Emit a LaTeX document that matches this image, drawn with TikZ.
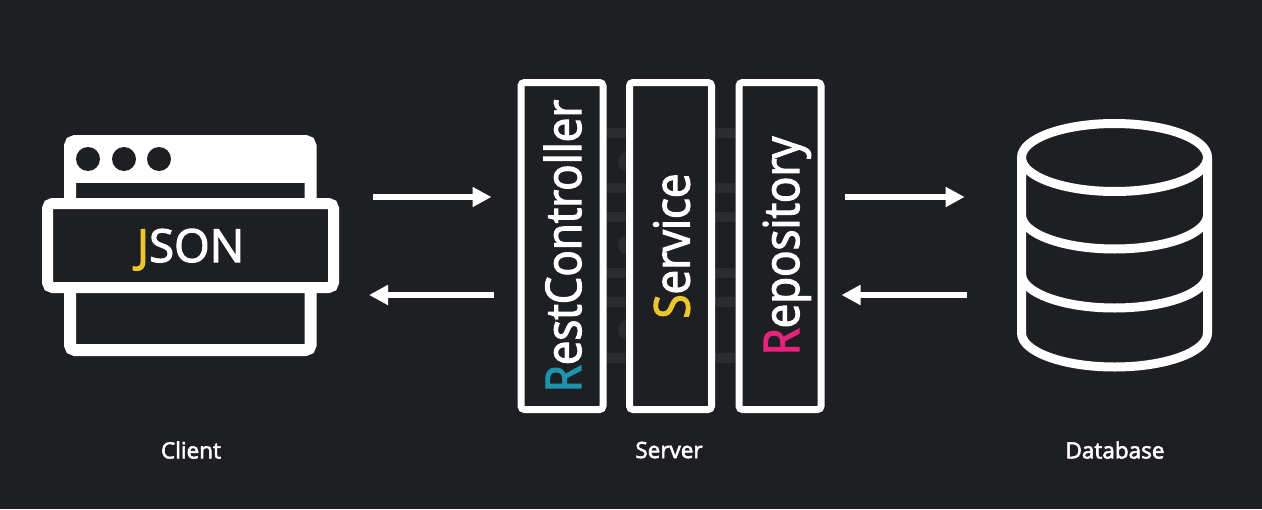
\documentclass[tikz,border=0pt]{standalone}
\usepackage{fontspec}
\setmainfont{Open Sans}
\newfontfamily\labelfont[FakeBold=2.5]{Open Sans}
\newfontfamily\panelfont[FakeBold=2.5, FakeStretch=0.89]{Open Sans}
\usetikzlibrary{arrows.meta, positioning, calc}
\definecolor{bgdark}{RGB}{30, 31, 35}
\definecolor{ghostgray}{RGB}{43, 44, 48}
\definecolor{jsonyellow}{RGB}{236, 197, 47}
\definecolor{restblue}{RGB}{27, 149, 174}
\definecolor{repopink}{RGB}{229, 35, 122}
\begin{document}
\begin{tikzpicture}[
  layer/.style={draw=white, fill=bgdark, line width=0.14cm, rounded corners=0.07cm,
                minimum width=1.64cm, minimum height=6.54cm},
  layertext/.style={rotate=90, text=white, inner sep=0pt, font=\panelfont\fontsize{28}{30}\selectfont,
                    text height=0.96cm, text depth=0.2cm},
  dot/.style={circle, fill=bgdark, minimum size=0.48cm, inner sep=0pt},
  caption/.style={text=white, font=\labelfont\fontsize{12.8}{14}\selectfont},
  flow/.style={draw=white, line width=0.12cm, -{Triangle[length=0.38cm, width=0.38cm]}},
  dbline/.style={draw=white, line width=0.18cm},
  ghost/.style={fill=ghostgray}
]
  \fill[bgdark] (0, 0) rectangle (25.24, 10.18);
  \useasboundingbox (0, 0) rectangle (25.24, 10.18);

  % faint strips behind the server
  \fill[ghost] (12.56, 6.94) circle (0.2);
  \fill[ghost] (12.56, 5.28) circle (0.2);
  \fill[ghost] (12.56, 3.58) circle (0.2);
  \fill[ghost] (12.14, 7.42) rectangle (12.52, 7.62) (14.3, 7.42) rectangle (14.7, 7.62);
  \fill[ghost] (12.14, 6.32) rectangle (12.52, 6.52) (14.3, 6.32) rectangle (14.7, 6.52);
  \fill[ghost] (12.14, 5.74) rectangle (12.52, 5.94) (14.3, 5.74) rectangle (14.7, 5.94);
  \fill[ghost] (12.14, 4.62) rectangle (12.52, 4.82) (14.3, 4.62) rectangle (14.7, 4.82);
  \fill[ghost] (12.14, 4.04) rectangle (12.52, 4.24) (14.3, 4.04) rectangle (14.7, 4.24);
  \fill[ghost] (12.14, 2.92) rectangle (12.52, 3.12) (14.3, 2.92) rectangle (14.7, 3.12);

  % client
  \node[draw=white, fill=bgdark, line width=0.24cm, rounded corners=0.1cm,
        minimum width=4.81cm, minimum height=4.18cm] (window) at (3.805, 5.27) {};
  \node[fill=white, minimum width=4.7cm, minimum height=0.84cm, inner sep=0pt] (header) at (3.805, 6.94) {};
  \node[dot] (dota) at (1.76, 7.0) {};
  \node[dot] (dotb) at (2.48, 7.0) {};
  \node[dot] (dotc) at (3.18, 7.0) {};
  \node[draw=white, fill=bgdark, line width=0.22cm, rounded corners=0.1cm,
        minimum width=5.72cm, minimum height=1.68cm, text=white, inner sep=0pt,
        text height=0.66cm, text depth=0cm,
        font=\labelfont\fontsize{26}{28}\selectfont] (band) at (3.81, 5.27)
    {\textcolor{jsonyellow}{J}SON};

  % server
  \node[layer] (rest) at (11.24, 5.26) {};
  \node[layer] (service) at (13.41, 5.26) {};
  \node[layer] (repo) at (15.6, 5.26) {};
  \node[layertext] (resttext) at (rest) {\textcolor{restblue}{R}estController};
  \node[layertext] (servicetext) at (service) {\textcolor{jsonyellow}{S}ervice};
  \node[layertext] (repotext) at (repo) {\textcolor{repopink}{R}epository};

  % database
  \node[minimum width=3.9cm, minimum height=5.04cm, inner sep=0pt] (db) at (22.29, 5.66) {};
  \draw[dbline] (22.29, 7.03) ellipse [x radius=1.86, y radius=0.68];
  \draw[dbline] (20.43, 7.03) -- (20.43, 3.52) arc [start angle=180, end angle=360, x radius=1.86, y radius=0.68] -- (24.15, 7.03);
  \draw[dbline] (20.43, 5.88) arc [start angle=180, end angle=360, x radius=1.86, y radius=0.68];
  \draw[dbline] (20.43, 4.70) arc [start angle=180, end angle=360, x radius=1.86, y radius=0.68];

  % arrows
  \coordinate (upper) at (0, 6.24);
  \coordinate (lower) at (0, 4.28);
  \draw[flow, shorten <=0.68cm, shorten >=0.52cm] (band.east |- upper) -- (rest.west |- upper);
  \draw[flow, shorten <=0.48cm, shorten >=0.6cm] (rest.west |- lower) -- (band.east |- lower);
  \draw[flow, shorten <=0.4cm, shorten >=1.04cm] (repo.east |- upper) -- (db.west |- upper);
  \draw[flow, shorten <=1.0cm, shorten >=0.34cm] (db.west |- lower) -- (repo.east |- lower);

  % captions
  \node[caption] (client) at (3.82, 1.18) {Client};
  \node[caption] (server) at (13.38, 1.18) {Server};
  \node[caption] (database) at (22.3, 1.18) {Database};
\end{tikzpicture}
\end{document}
